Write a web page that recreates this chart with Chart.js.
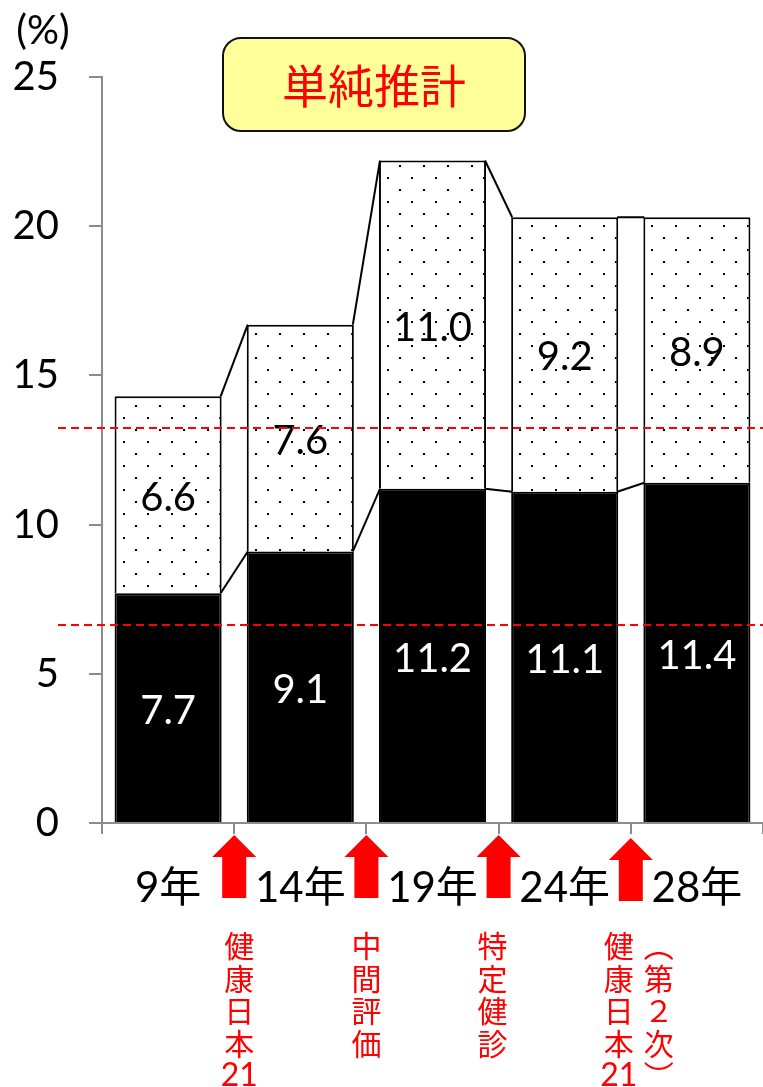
<!DOCTYPE html>
<html>
<head>
<meta charset="utf-8">
<script src="https://cdn.jsdelivr.net/npm/chart.js@4.4.1/dist/chart.umd.min.js"></script>
<style>
  html, body { margin: 0; padding: 0; background: #fff; }
  #wrap { width: 763px; height: 1087px; position: relative; }
</style>
</head>
<body>
<div id="wrap"><canvas id="chart"></canvas></div>
<script>
// Survey years and the two stacked shares (%)
const categories = ['9年', '14年', '19年', '24年', '28年'];
const strongValues = [7.7, 9.1, 11.2, 11.1, 11.4];     // 糖尿病が強く疑われる者
const possibleValues = [6.6, 7.6, 11.0, 9.2, 8.9];     // 糖尿病の可能性を否定できない者
const yTickValues = [0, 5, 10, 15, 20, 25];
const referenceLevels = [13.25, 6.65];
const boxTitle = '単純推計';
const unitLabel = '(%)';
// Policy milestones between survey years (one entry per gap, each a list of vertical columns)
const milestoneColumns = [['健康日本21'], ['中間評価'], ['特定健診'], ['健康日本21', '（第２次）']];

const LATIN = 'Lato, "Noto Sans CJK JP", sans-serif';
const CJK = '"Noto Sans CJK JP", sans-serif';

const canvas = document.getElementById('chart');
const ctx = canvas.getContext('2d');

// Staggered dot fill for the upper segment
function makeDotPattern() {
  const tile = document.createElement('canvas');
  tile.width = 24; tile.height = 24;
  const g = tile.getContext('2d');
  g.fillStyle = '#fff';
  g.fillRect(0, 0, 24, 24);
  g.fillStyle = '#000';
  g.fillRect(15, 21, 2, 2);
  g.fillRect(3, 9, 2, 2);
  return ctx.createPattern(tile, 'repeat');
}

// Split a label into vertical glyphs; digit runs stay together, parentheses use vertical forms
function verticalGlyphs(text) {
  const out = [];
  const map = { '（': '︵', '）': '︶', '(': '︵', ')': '︶' };
  let run = '';
  for (const ch of text) {
    if (/[0-9]/.test(ch)) { run += ch; continue; }
    if (run) { out.push(run); run = ''; }
    out.push(map[ch] || ch);
  }
  if (run) out.push(run);
  return out;
}

const overlayPlugin = {
  id: 'overlay',
  afterDatasetsDraw(chart) {
    const c = chart.ctx;
    const y = chart.scales.y;
    const m0 = chart.getDatasetMeta(0).data;
    const m1 = chart.getDatasetMeta(1).data;

    // connector lines between neighbouring bars
    c.save();
    c.strokeStyle = '#000';
    c.lineWidth = 2;
    for (let i = 0; i < categories.length - 1; i++) {
      const a = m0[i], b = m0[i + 1];
      const ax = a.x + a.width / 2, bx = b.x - b.width / 2;
      const levelsA = [strongValues[i], strongValues[i] + possibleValues[i]];
      const levelsB = [strongValues[i + 1], strongValues[i + 1] + possibleValues[i + 1]];
      for (let k = 0; k < 2; k++) {
        c.beginPath();
        c.moveTo(ax - 1, y.getPixelForValue(levelsA[k]));
        c.lineTo(bx + 1, y.getPixelForValue(levelsB[k]));
        c.stroke();
      }
    }
    c.restore();

    // value labels
    c.save();
    c.font = '40px ' + LATIN;
    c.textAlign = 'center';
    c.textBaseline = 'middle';
    for (let i = 0; i < categories.length; i++) {
      const s = strongValues[i], p = possibleValues[i];
      const yb = (y.getPixelForValue(0) + y.getPixelForValue(s)) / 2 + 3;
      const yt = (y.getPixelForValue(s) + y.getPixelForValue(s + p)) / 2 + 3;
      c.fillStyle = '#fff';
      c.fillText(s.toFixed(1), m0[i].x, yb);
      c.fillStyle = '#000';
      c.fillText(p.toFixed(1), m1[i].x, yt);
    }
    c.restore();

    // red dashed reference levels
    c.save();
    c.strokeStyle = '#ff0000';
    c.lineWidth = 2;
    c.setLineDash([8, 5]);
    referenceLevels.forEach(v => {
      const py = Math.round(y.getPixelForValue(v));
      c.beginPath();
      c.moveTo(58, py);
      c.lineTo(chart.width, py);
      c.stroke();
    });
    c.restore();
  },
  afterDraw(chart) {
    const c = chart.ctx;
    const m0 = chart.getDatasetMeta(0).data;

    // unit label
    c.save();
    c.font = '40px ' + LATIN;
    c.fillStyle = '#000';
    c.textAlign = 'center';
    c.textBaseline = 'middle';
    c.fillText(unitLabel, 43, 31);
    c.restore();

    // title box
    c.save();
    c.beginPath();
    c.roundRect(223, 38, 302, 93, 18);
    c.fillStyle = '#ffff99';
    c.fill();
    c.lineWidth = 2;
    c.strokeStyle = '#111';
    c.stroke();
    c.font = '46px ' + CJK;
    c.fillStyle = '#ff0000';
    c.textAlign = 'center';
    c.textBaseline = 'middle';
    c.fillText(boxTitle, 374, 86);
    c.restore();

    // arrows at the gaps between survey years, with vertical captions
    const columnOffsets = [[5], [0], [-6], [-12, 28]];
    c.save();
    for (let i = 0; i < categories.length - 1; i++) {
      const x = (m0[i].x + m0[i + 1].x) / 2;
      const top = i === 3 ? 838 : 835;
      c.beginPath();
      c.moveTo(x, top);
      c.lineTo(x + 22, top + 22);
      c.lineTo(x + 12, top + 22);
      c.lineTo(x + 12, top + 63);
      c.lineTo(x - 12, top + 63);
      c.lineTo(x - 12, top + 22);
      c.lineTo(x - 22, top + 22);
      c.closePath();
      c.fillStyle = '#ff0000';
      c.fill();

      const cols = milestoneColumns[i];
      cols.forEach((text, k) => {
        const cx = x + columnOffsets[i][k];
        const glyphs = verticalGlyphs(text);
        glyphs.forEach((g, j) => {
          const gy = 946 + j * 32.5;
          c.fillStyle = '#ff0000';
          c.textAlign = 'center';
          c.textBaseline = 'middle';
          c.font = /^[0-9]+$/.test(g) ? ('32px ' + LATIN) : ('30px ' + CJK);
          c.fillText(g, cx, gy);
        });
      });
    }
    c.restore();
  }
};

const dotFill = makeDotPattern();

new Chart(ctx, {
  type: 'bar',
  data: {
    labels: categories,
    datasets: [
      {
        label: '糖尿病が強く疑われる者',
        data: strongValues,
        backgroundColor: '#000',
        borderColor: '#000',
        borderWidth: 2
      },
      {
        label: '糖尿病の可能性を否定できない者',
        data: possibleValues,
        backgroundColor: dotFill,
        borderColor: '#000',
        borderWidth: 2
      }
    ]
  },
  options: {
    responsive: true,
    maintainAspectRatio: false,
    animation: false,
    events: [],
    layout: { padding: { top: 77, right: 0, bottom: 0, left: 0 } },
    datasets: { bar: { categoryPercentage: 1, barPercentage: 0.81 } },
    plugins: { legend: { display: false }, tooltip: { enabled: false }, title: { display: false } },
    scales: {
      x: {
        stacked: true,
        grid: { display: true, drawOnChartArea: false, drawTicks: true, tickLength: 11, color: '#8c8c8c', lineWidth: 2, offset: true },
        border: { display: true, color: '#8c8c8c', width: 2 },
        ticks: { color: '#000', font: { family: LATIN, size: 42 }, padding: 29, maxRotation: 0 },
        afterFit(scale) {
          scale.height = 264;
          scale.paddingLeft = 0;
          scale.paddingRight = 0;
        }
      },
      y: {
        stacked: true,
        min: 0,
        max: 25,
        afterBuildTicks(scale) { scale.ticks = yTickValues.map(v => ({ value: v })); },
        grid: { display: true, drawOnChartArea: false, drawTicks: true, tickLength: 13, color: '#8c8c8c', lineWidth: 2 },
        border: { display: true, color: '#8c8c8c', width: 2 },
        ticks: { color: '#000', font: { family: LATIN, size: 40 }, padding: 30 },
        afterFit(scale) { scale.width = 102; }
      }
    }
  },
  plugins: [overlayPlugin]
});
</script>
</body>
</html>
